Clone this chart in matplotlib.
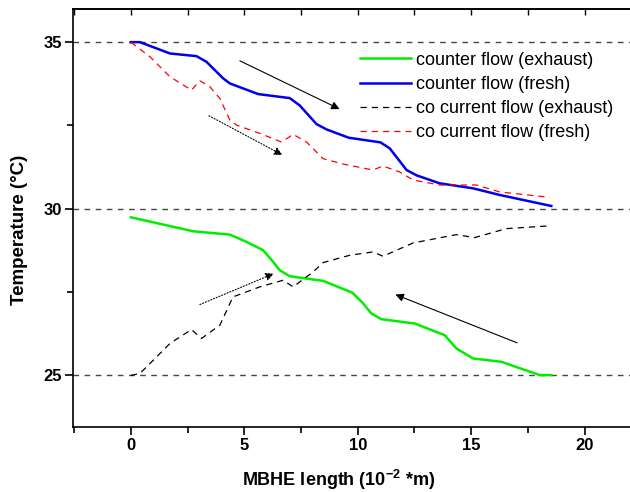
import matplotlib.pyplot as plt
from matplotlib.ticker import MultipleLocator

plt.rcParams['font.family'] = ['Liberation Sans', 'DejaVu Sans']

# counter flow (exhaust)
ce_x = [0, 2.74, 4.36, 5.1, 5.83, 6.27, 6.56, 7.0, 8.47, 9.75, 10.2, 10.6, 11.04,
        12.51, 13.83, 14.35, 15.08, 16.33, 18.02, 18.53]
ce_y = [29.74, 29.32, 29.22, 29.0, 28.75, 28.4, 28.15, 27.97, 27.83, 27.48, 27.18, 26.85, 26.68,
        26.55, 26.2, 25.8, 25.5, 25.4, 25.0, 25.0]

# counter flow (fresh)
cf_x = [0, 0.4, 1.72, 2.89, 3.33, 4.07, 4.36, 5.61, 7.0, 7.44, 8.18, 8.62, 9.6,
        11.0, 11.41, 12.15, 12.59, 13.61, 15.08, 16.26, 18.53]
cf_y = [35.0, 35.0, 34.66, 34.58, 34.41, 33.91, 33.76, 33.44, 33.32, 33.1, 32.54, 32.38, 32.13,
        31.99, 31.81, 31.16, 31.0, 30.76, 30.61, 30.41, 30.08]

# co current flow (exhaust)
oe_x = [0, 0.4, 1.72, 2.67, 3.11, 3.92, 4.5, 5.68, 6.71, 7.15, 8.03, 8.47, 9.65,
        10.67, 11.11, 12.44, 14.35, 15.15, 16.55, 18.38]
oe_y = [24.99, 25.05, 25.95, 26.37, 26.1, 26.5, 27.35, 27.65, 27.85, 27.65, 28.1, 28.38, 28.6,
        28.7, 28.57, 28.97, 29.22, 29.13, 29.4, 29.48]

# co current flow (fresh)
of_x = [0, 0.84, 1.72, 2.67, 3.04, 3.48, 3.92, 4.36, 4.65, 5.68, 6.64, 7.15, 7.74,
        8.47, 9.35, 10.67, 11.11, 11.85, 12.44, 13.61, 15.23, 16.26, 18.46]
of_y = [35.0, 34.56, 33.96, 33.56, 33.84, 33.66, 33.31, 32.66, 32.51, 32.26, 32.0, 32.23, 32.0,
        31.5, 31.34, 31.16, 31.28, 31.1, 30.86, 30.71, 30.71, 30.5, 30.34]

ref_levels = [25, 30, 35]

# arrows: (start, end, style)
arrows = [((4.8, 34.44), (9.2, 32.99), '-'),
          ((3.44, 32.79), (6.68, 31.61), ':'),
          ((3.04, 27.12), (6.3, 28.05), ':'),
          ((17.02, 25.97), (11.66, 27.42), '-')]

fig = plt.figure(figsize=(6.3, 4.92), dpi=100)
ax = fig.add_axes([0.116, 0.132, 0.884, 0.85])

for lv in ref_levels:
    ax.axhline(lv, color='#444444', lw=1.0, ls=(0, (4, 4)), zorder=1)

ax.plot(ce_x, ce_y, color='#00ee00', lw=1.8, label='counter flow (exhaust)')
ax.plot(cf_x, cf_y, color='#0000ee', lw=1.8, label='counter flow (fresh)')
ax.plot(oe_x, oe_y, color='black', lw=0.9, ls=(0, (5, 4)), label='co current flow (exhaust)')
ax.plot(of_x, of_y, color='red', lw=0.9, ls=(0, (5, 4)), label='co current flow (fresh)')

for (x0, y0), (x1, y1), st in arrows:
    ax.annotate('', xy=(x1, y1), xytext=(x0, y0),
                arrowprops=dict(arrowstyle='-|>', color='black', lw=0.8,
                                linestyle=st, mutation_scale=12,
                                shrinkA=0, shrinkB=0))

ax.set_xlim(-2.55, 22.0)
ax.set_ylim(23.44, 36.0)
ax.xaxis.set_major_locator(MultipleLocator(5))
ax.xaxis.set_minor_locator(MultipleLocator(2.5))
ax.yaxis.set_major_locator(MultipleLocator(5))
ax.yaxis.set_minor_locator(MultipleLocator(2.5))

ax.spines['right'].set_visible(False)
for s in ['left', 'bottom', 'top']:
    ax.spines[s].set_linewidth(1.2)
ax.tick_params(which='major', direction='out', length=6, width=1.2, labelsize=12, pad=2)
ax.tick_params(which='minor', direction='out', length=4, width=1.2)
for lab in ax.get_xticklabels() + ax.get_yticklabels():
    lab.set_fontweight('bold')

top = ax.secondary_xaxis('top')
top.xaxis.set_major_locator(MultipleLocator(5))
top.xaxis.set_minor_locator(MultipleLocator(2.5))
top.tick_params(which='both', direction='in', length=4, width=1.0, labeltop=False)
top.spines['top'].set_linewidth(1.2)

xl = ax.set_xlabel('MBHE length (10$^{\\mathregular{-2}}$ *m)', fontsize=13, fontweight='bold')
xl.set_va('center')
ax.xaxis.set_label_coords(0.476, -0.127)
yl = ax.set_ylabel('Temperature (°C)', fontsize=13.5, fontweight='bold')
yl.set_va('center')
ax.yaxis.set_label_coords(-0.097, 0.471)

ax.legend(loc='upper left', bbox_to_anchor=(0.503, 0.915), frameon=False, fontsize=13,
          handlelength=2.8, labelspacing=0.4, handletextpad=0.3, borderaxespad=0)

fig.savefig('out.png', dpi=100)
